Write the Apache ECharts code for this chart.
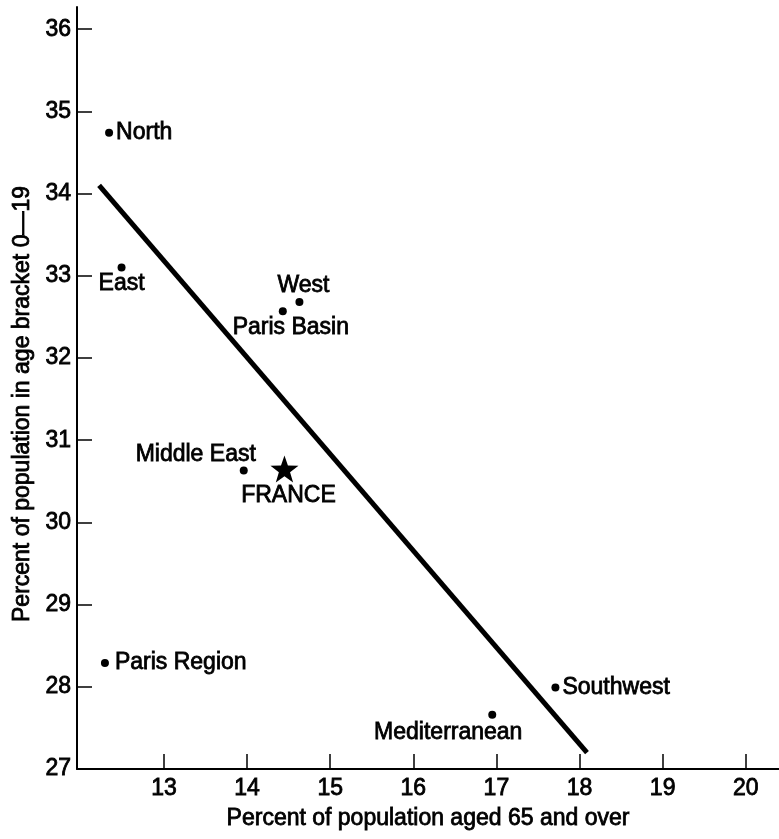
<!DOCTYPE html>
<html>
<head>
<meta charset="utf-8">
<script src="https://cdn.jsdelivr.net/npm/echarts@6/dist/echarts.min.js"></script>
<style>html,body{margin:0;padding:0;background:#fff;}#c{width:779px;height:839px;}</style>
</head>
<body>
<div id="c"></div>
<script>
// ---- data ----
const regions = ['North', 'East', 'West', 'Paris Basin', 'Middle East', 'Paris Region', 'Mediterranean', 'Southwest'];
const pctAged65 = [12.34, 12.49, 14.63, 14.43, 13.96, 12.29, 16.95, 17.71];
const pctAge0to19 = [34.74, 33.10, 32.68, 32.57, 30.63, 28.29, 27.66, 27.99];
const franceName = 'FRANCE';
const franceX = 14.45;
const franceY = 30.65;
const trendX = [12.22, 18.09];
const trendY = [34.10, 27.20];
const xTicks = [13, 14, 15, 16, 17, 18, 19, 20];
const yTicks = [27, 28, 29, 30, 31, 32, 33, 34, 35, 36];
const xTitle = 'Percent of population aged 65 and over';
const yTitle = 'Percent of population in age bracket 0\u201419';

// ---- styles (label placement per region) ----
const labelStyle = {
  'North': { position: 'right', distance: 3 },
  'East': { position: 'bottom', distance: 1 },
  'West': { position: 'top', distance: 1, offset: [4, 0] },
  'Paris Basin': { position: 'bottom', distance: 1, offset: [8, 0] },
  'Middle East': { position: 'top', distance: 0, offset: [-48, 0] },
  'Paris Region': { position: 'right', distance: 6 },
  'Mediterranean': { position: 'bottom', distance: 2, offset: [-44, 0] },
  'Southwest': { position: 'right', distance: 3 }
};

const FONT = '"Liberation Sans", Arial, sans-serif';
const txt = { color: '#000', fontFamily: FONT, fontSize: 23, textBorderColor: '#000', textBorderWidth: 0.8 };

const pts = regions.map((name, i) => ({
  name: name,
  value: [pctAged65[i], pctAge0to19[i]],
  label: Object.assign({ show: true, formatter: '{b}' }, txt, labelStyle[name])
}));

const star = 'path://M0,-10 L2.35,-3.24 L9.51,-3.09 L3.8,1.24 L5.88,8.09 L0,4 L-5.88,8.09 L-3.8,1.24 L-9.51,-3.09 L-2.35,-3.24 Z';

const chart = echarts.init(document.getElementById('c'), null, { renderer: 'canvas' });
chart.setOption({
  backgroundColor: '#fff',
  animation: false,
  grid: { left: 77, right: 0, top: 7, bottom: 70, containLabel: false, outerBoundsMode: 'none' },
  xAxis: {
    type: 'value', min: 11.954, max: 20.40,
    name: xTitle, nameLocation: 'middle', nameGap: 38,
    nameTextStyle: Object.assign({}, txt),
    axisLine: { show: true, onZero: false, lineStyle: { color: '#000', width: 2 } },
    axisTick: { show: true, inside: true, length: 15, lineStyle: { color: '#000', width: 1.5 }, customValues: xTicks },
    axisLabel: Object.assign({ margin: 8, customValues: xTicks }, txt),
    splitLine: { show: false }
  },
  yAxis: {
    type: 'value', min: 27, max: 36.27,
    name: yTitle, nameLocation: 'middle', nameGap: 42,
    nameTextStyle: Object.assign({}, txt, { padding: [0, 32, 0, 0] }),
    axisLine: { show: true, onZero: false, lineStyle: { color: '#000', width: 2 } },
    axisTick: { show: true, inside: true, length: 15, lineStyle: { color: '#000', width: 1.5 }, customValues: yTicks },
    axisLabel: Object.assign({ margin: 6, customValues: yTicks }, txt),
    splitLine: { show: false }
  },
  series: [
    {
      type: 'line',
      data: trendX.map((x, i) => [x, trendY[i]]),
      symbol: 'none',
      lineStyle: { color: '#000', width: 5, opacity: 1 },
      silent: true,
      z: 2
    },
    {
      type: 'scatter',
      data: pts,
      symbol: 'circle',
      symbolSize: 8,
      itemStyle: { color: '#000', opacity: 1 },
      z: 3
    },
    {
      type: 'scatter',
      data: [{ name: franceName, value: [franceX, franceY] }],
      symbol: star,
      symbolSize: [28, 27],
      itemStyle: { color: '#000', opacity: 1 },
      label: Object.assign({ show: true, formatter: '{b}', position: 'bottom', distance: 2, offset: [4, 0] }, txt),
      z: 3
    }
  ]
});
</script>
</body>
</html>
